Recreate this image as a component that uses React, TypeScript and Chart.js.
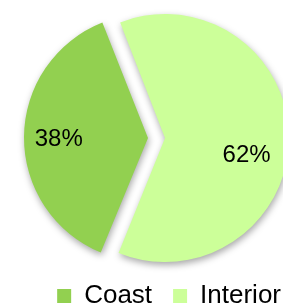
import React, { useEffect, useRef } from "react";
import { Chart, registerables } from "chart.js";

Chart.register(...registerables);

const categories = ["Coast", "Interior"];
const shares = [38, 62];
const sliceColors = ["#92D050", "#CCFF99"];
const sliceOffsetPx = [17, 0];
const labelRadiusFactor = [0.72, 0.67];
const labelAngleShiftDeg = [0, 10.5];

const FONT = "'Liberation Sans', Arial, Helvetica, sans-serif";

// Chart.js 4 draws an arc's offset at a quarter of the option value
// and grows the radius of an offset slice; compensate so all slices share one radius.
const radiusFix = {
  id: "radiusFix",
  beforeDatasetsDraw(chart: any) {
    const meta = chart.getDatasetMeta(0);
    const R = meta.controller.outerRadius;
    meta.data.forEach((arc: any, i: number) => {
      const off = sliceOffsetPx[i] || 0;
      const circ = arc.endAngle - arc.startAngle;
      const fix = 1 - Math.sin(Math.min(Math.PI, circ));
      arc.outerRadius = R - off * fix;
    });
  },
};

const shadowPlugin = {
  id: "sliceShadow",
  beforeDatasetsDraw(chart: any) {
    const ctx = chart.ctx;
    ctx.save();
    ctx.shadowColor = "rgba(0,0,0,0.35)";
    ctx.shadowBlur = 7;
    ctx.shadowOffsetX = 1;
    ctx.shadowOffsetY = 3;
  },
  afterDatasetsDraw(chart: any) {
    chart.ctx.restore();
  },
};

const labelPlugin = {
  id: "sliceLabels",
  afterDatasetsDraw(chart: any) {
    const ctx = chart.ctx;
    const meta = chart.getDatasetMeta(0);
    const R = meta.controller.outerRadius;
    const data = chart.data.datasets[0].data as number[];
    const total = data.reduce((a, b) => a + b, 0);
    const size = 24;
    ctx.save();
    ctx.font = `${size}px ${FONT}`;
    ctx.fillStyle = "#000";
    ctx.textAlign = "center";
    ctx.textBaseline = "alphabetic";
    meta.data.forEach((arc: any, i: number) => {
      const mid = (arc.startAngle + arc.endAngle) / 2;
      const off = sliceOffsetPx[i] || 0;
      const ang = mid + (labelAngleShiftDeg[i] * Math.PI) / 180;
      const cx = arc.x + Math.cos(mid) * off;
      const cy = arc.y + Math.sin(mid) * off;
      const r = R * labelRadiusFactor[i];
      const tx = cx + Math.cos(ang) * r;
      const ty = cy + Math.sin(ang) * r;
      ctx.fillText(`${Math.round((data[i] / total) * 100)}%`, tx, ty + size * 0.36);
    });
    ctx.restore();
  },
};

export default function App() {
  const ref = useRef<HTMLCanvasElement>(null);
  useEffect(() => {
    if (!ref.current) return;
    const chart = new Chart(ref.current, {
      type: "pie",
      data: {
        labels: categories,
        datasets: [
          {
            data: shares,
            backgroundColor: sliceColors,
            borderWidth: 0,
            offset: sliceOffsetPx.map((v) => v * 4),
          },
        ],
      },
      options: {
        animation: false,
        responsive: false,
        rotation: 202,
        radius: 124,
        layout: { padding: { left: 28, right: 0, top: 14, bottom: 0 } },
        plugins: {
          tooltip: { enabled: false },
          legend: {
            position: "bottom",
            align: "end",
            labels: {
              boxWidth: 14,
              boxHeight: 14,
              padding: 21,
              color: "#000",
              font: { size: 26, family: FONT },
            },
          },
        },
      },
      plugins: [radiusFix, shadowPlugin, labelPlugin],
    });
    return () => chart.destroy();
  }, []);
  return (
    <div
      style={{
        position: "absolute",
        left: 0,
        top: 0,
        width: 283,
        height: 306,
        overflow: "hidden",
        background: "#fff",
      }}
    >
      <canvas ref={ref} width={302} height={319} style={{ display: "block" }} />
    </div>
  );
}
